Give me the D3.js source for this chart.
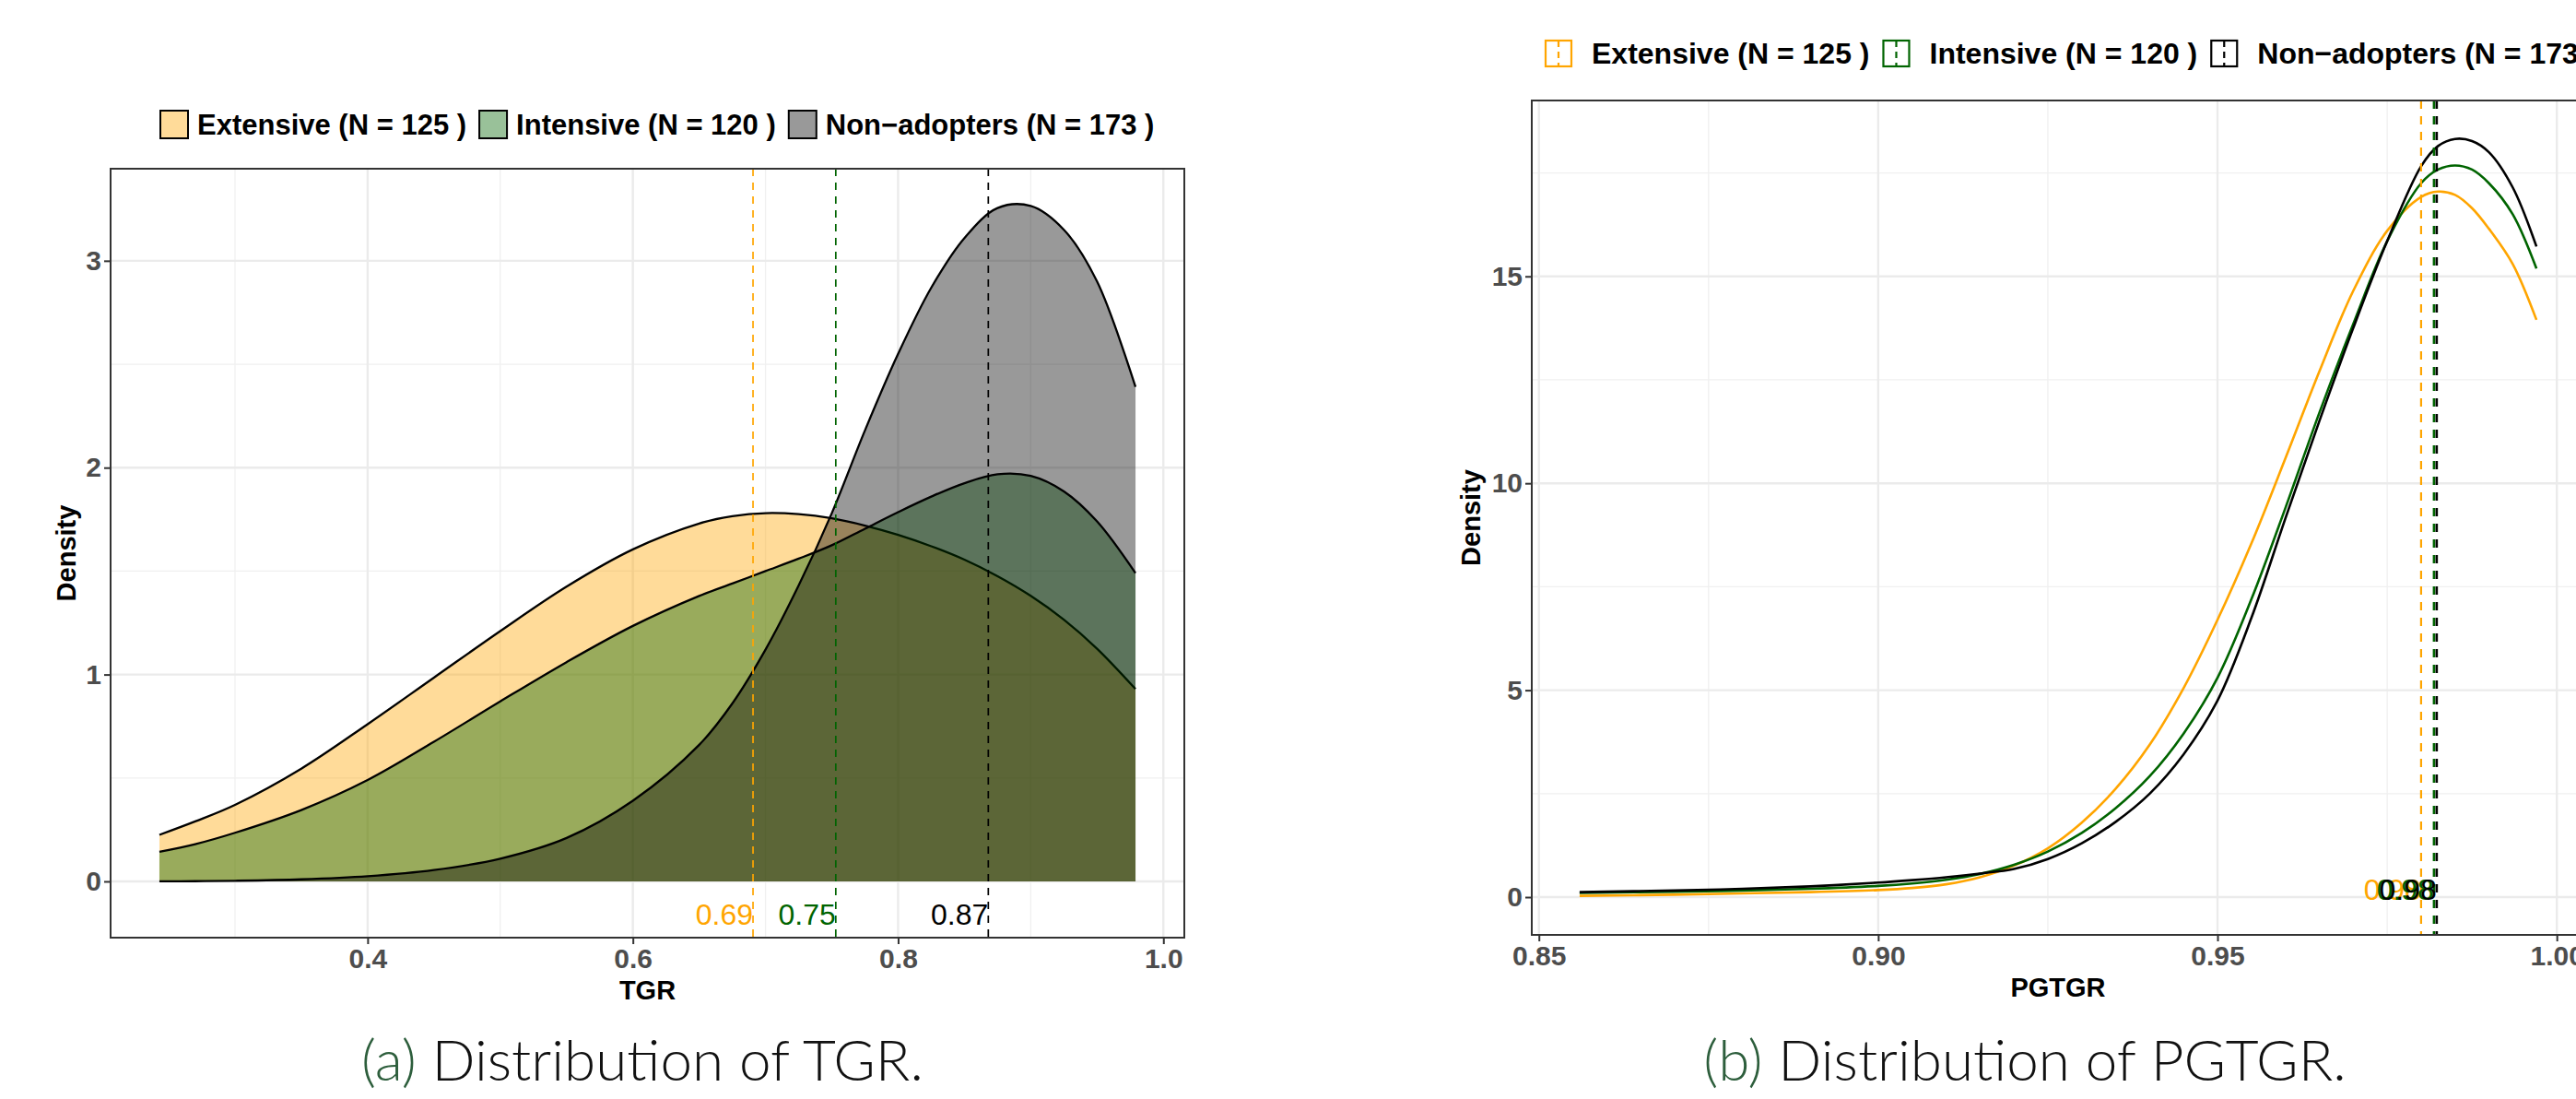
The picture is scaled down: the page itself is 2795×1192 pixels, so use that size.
<!DOCTYPE html>
<html>
<head>
<meta charset="utf-8">
<script src="https://cdn.jsdelivr.net/npm/d3@7"></script>
<style>
body { margin: 0; background: #fff; }
svg { display: block; font-family: "Liberation Sans", Arial, sans-serif; }
</style>
</head>
<body>
<svg id="chart" width="2795" height="1192"></svg>
<script>
const groups = ["Extensive (N = 125 )", "Intensive (N = 120 )", "Non\u2212adopters (N = 173 )"]
const groupColors = ["orange", "darkgreen", "black"]

// TGR densities (left)
const tgrGrid = [0.243, 0.27, 0.3, 0.35, 0.4, 0.45, 0.5, 0.55, 0.6, 0.65, 0.675, 0.7, 0.725, 0.75, 0.775, 0.8, 0.825, 0.85, 0.875, 0.9, 0.925, 0.95, 0.979]
const tgrExtensive = [0.225, 0.29, 0.37, 0.545, 0.76, 0.985, 1.21, 1.425, 1.605, 1.73, 1.765, 1.78, 1.775, 1.755, 1.72, 1.675, 1.62, 1.555, 1.475, 1.38, 1.265, 1.125, 0.93]
const tgrIntensive = [0.143, 0.18, 0.235, 0.345, 0.49, 0.675, 0.87, 1.06, 1.235, 1.38, 1.44, 1.50, 1.56, 1.625, 1.705, 1.785, 1.86, 1.925, 1.968, 1.96, 1.885, 1.74, 1.49]
const tgrNonAdopters = [0.0, 0.001, 0.003, 0.01, 0.025, 0.055, 0.11, 0.21, 0.39, 0.66, 0.86, 1.12, 1.43, 1.78, 2.18, 2.55, 2.87, 3.11, 3.255, 3.265, 3.15, 2.9, 2.39]
const tgrMeans = [0.6906, 0.753, 0.868]
const tgrTicks = [0.4, 0.6, 0.8, 1.0]
const tgrDensityTicks = [0, 1, 2, 3]

// PGTGR densities (right)
const pgtgrGrid = [0.856, 0.87, 0.88, 0.89, 0.9, 0.905, 0.91, 0.915, 0.92, 0.925, 0.93, 0.935, 0.94, 0.945, 0.95, 0.955, 0.96, 0.965, 0.97, 0.975, 0.98, 0.9825, 0.985, 0.9875, 0.99, 0.9935, 0.997]
const pgtgrExtensive = [0.03, 0.06, 0.09, 0.12, 0.17, 0.22, 0.31, 0.48, 0.76, 1.18, 1.8, 2.62, 3.68, 5.05, 6.7, 8.55, 10.6, 12.7, 14.65, 16.1, 16.92, 17.05, 16.97, 16.65, 16.15, 15.3, 13.95]
const pgtgrIntensive = [0.10, 0.13, 0.16, 0.20, 0.27, 0.33, 0.42, 0.56, 0.78, 1.1, 1.55, 2.15, 2.92, 3.95, 5.3, 7.2, 9.4, 11.7, 13.85, 15.85, 17.25, 17.58, 17.68, 17.58, 17.25, 16.5, 15.19]
const pgtgrNonAdopters = [0.12, 0.16, 0.20, 0.26, 0.35, 0.41, 0.48, 0.57, 0.68, 0.92, 1.3, 1.82, 2.5, 3.45, 4.75, 6.75, 9.15, 11.5, 13.75, 15.85, 17.66, 18.15, 18.32, 18.27, 18.0, 17.15, 15.72]
const pgtgrMeans = [0.980, 0.9819, 0.9823]
const pgtgrTicks = [0.85, 0.90, 0.95, 1.00]
const pgtgrDensityTicks = [0, 5, 10, 15]

const svg = d3.select("#chart")
svg.append("rect").attr("width", 2795).attr("height", 1192).attr("fill", "#fff")

function expand(ext) {
    const pad = (ext[1] - ext[0]) * 0.05
    return [ext[0] - pad, ext[1] + pad]
}

function drawPanel(p) {
    const x = d3.scaleLinear().domain(expand(d3.extent(p.grid))).range([p.left, p.right])
    const y = d3.scaleLinear().domain(p.yDomain).range([p.bottom, p.top])
    const g = svg.append("g")

    const clipId = "clip" + p.id
    g.append("clipPath").attr("id", clipId)
        .append("rect").attr("x", p.left).attr("y", p.top)
        .attr("width", p.right - p.left).attr("height", p.bottom - p.top)

    const inner = g.append("g").attr("clip-path", `url(#${clipId})`)

    // grid, minor first
    const xMinor = p.xTicks.slice(0, -1).map((d, i) => (d + p.xTicks[i + 1]) / 2)
    xMinor.unshift(p.xTicks[0] - (p.xTicks[1] - p.xTicks[0]) / 2)
    const yMinor = p.yTicks.map(d => d + (p.yTicks[1] - p.yTicks[0]) / 2)
    inner.selectAll(".xminor").data(xMinor).enter().append("line")
        .attr("x1", d => x(d)).attr("x2", d => x(d))
        .attr("y1", p.top).attr("y2", p.bottom)
        .attr("stroke", "#f0f0f0").attr("stroke-width", 1.3)
    inner.selectAll(".yminor").data(yMinor).enter().append("line")
        .attr("x1", p.left).attr("x2", p.right)
        .attr("y1", d => y(d)).attr("y2", d => y(d))
        .attr("stroke", "#f0f0f0").attr("stroke-width", 1.3)
    inner.selectAll(".xmajor").data(p.xTicks).enter().append("line")
        .attr("x1", d => x(d)).attr("x2", d => x(d))
        .attr("y1", p.top).attr("y2", p.bottom)
        .attr("stroke", "#ebebeb").attr("stroke-width", 2.4)
    inner.selectAll(".ymajor").data(p.yTicks).enter().append("line")
        .attr("x1", p.left).attr("x2", p.right)
        .attr("y1", d => y(d)).attr("y2", d => y(d))
        .attr("stroke", "#ebebeb").attr("stroke-width", 2.4)

    const area = d3.area().x(d => x(d[0])).y0(y(0)).y1(d => y(d[1])).curve(d3.curveCatmullRom.alpha(0.5))
    const line = d3.line().x(d => x(d[0])).y(d => y(d[1])).curve(d3.curveCatmullRom.alpha(0.5))

    p.series.forEach((vals, i) => {
        const pts = p.grid.map((v, j) => [v, vals[j]])
        if (p.filled) {
            inner.append("path").attr("d", area(pts))
                .attr("fill", groupColors[i]).attr("fill-opacity", 0.4)
            inner.append("path").attr("d", line(pts))
                .attr("fill", "none").attr("stroke", "black").attr("stroke-width", 2.3)
        } else {
            inner.append("path").attr("d", line(pts))
                .attr("fill", "none").attr("stroke", groupColors[i]).attr("stroke-width", 2.6)
        }
    })

    // mean lines + labels
    p.means.forEach((m, i) => {
        inner.append("line")
            .attr("x1", x(m)).attr("x2", x(m)).attr("y1", p.top).attr("y2", p.bottom)
            .attr("stroke", groupColors[i]).attr("stroke-width", p.meanWidth[i])
            .attr("stroke-dasharray", p.dash)
    })
    p.means.forEach((m, i) => {
        inner.append("text")
            .attr("x", x(m)).attr("y", y(p.labelY))
            .attr("text-anchor", "end").attr("dominant-baseline", "central")
            .attr("font-size", 32).attr("fill", groupColors[i])
            .text(d3.format(".2f")(m))
    })

    g.append("rect").attr("x", p.left).attr("y", p.top)
        .attr("width", p.right - p.left).attr("height", p.bottom - p.top)
        .attr("fill", "none").attr("stroke", "#333").attr("stroke-width", 2)

    const xAxis = g.append("g").attr("transform", `translate(0,${p.bottom})`)
        .call(d3.axisBottom(x).tickValues(p.xTicks).tickFormat(d3.format(p.xFormat)).tickSize(7).tickPadding(5))
    const yAxis = g.append("g").attr("transform", `translate(${p.left},0)`)
        .call(d3.axisLeft(y).tickValues(p.yTicks).tickFormat(d3.format("d")).tickSize(7).tickPadding(3))
    ;[xAxis, yAxis].forEach(a => {
        a.select(".domain").remove()
        a.selectAll(".tick line").attr("stroke", "#333").attr("stroke-width", 2)
        a.selectAll(".tick text").attr("font-size", 30).attr("font-weight", "bold")
            .attr("fill", "#4d4d4d").attr("font-family", "Liberation Sans, Arial, sans-serif")
    })

    g.append("text").attr("x", (p.left + p.right) / 2).attr("y", p.bottom + 57)
        .attr("text-anchor", "middle").attr("dominant-baseline", "central")
        .attr("font-size", 29).attr("font-weight", "bold").text(p.xTitle)
    g.append("text")
        .attr("transform", `translate(${p.yTitleX},${(p.top + p.bottom) / 2}) rotate(-90)`)
        .attr("text-anchor", "middle").attr("dominant-baseline", "central")
        .attr("font-size", 29).attr("font-weight", "bold").text("Density")

    // legend
    let lx = p.legendX
    groups.forEach((name, i) => {
        const key = g.append("g")
        if (p.filled) {
            key.append("rect").attr("x", lx).attr("y", p.legendY - 15).attr("width", 30).attr("height", 30)
                .attr("fill", groupColors[i]).attr("fill-opacity", 0.4)
                .attr("stroke", "black").attr("stroke-width", 2)
        } else {
            key.append("rect").attr("x", lx + 1).attr("y", p.legendY - 14).attr("width", 28).attr("height", 28)
                .attr("fill", "none").attr("stroke", groupColors[i]).attr("stroke-width", 2.2)
            key.append("line").attr("x1", lx + 15).attr("x2", lx + 15)
                .attr("y1", p.legendY - 14).attr("y2", p.legendY + 14)
                .attr("stroke", groupColors[i]).attr("stroke-width", 2.2).attr("stroke-dasharray", "7,5")
        }
        const t = g.append("text").attr("x", lx + p.legendGap).attr("y", p.legendY)
            .attr("dominant-baseline", "central").attr("font-size", p.legendSize)
            .attr("font-weight", "bold").text(name)
        lx += p.legendGap + t.node().getComputedTextLength() + 14
    })

    const cap = g.append("text").attr("x", p.captionX).attr("y", 1172)
        .attr("text-anchor", "middle").attr("font-size", 62)
        .attr("font-family", "Lato, 'Open Sans', sans-serif").attr("font-weight", 300)
    cap.append("tspan").attr("fill", "#2d5e3c").text(p.captionTag)
    cap.append("tspan").attr("fill", "#111").text(" " + p.caption)
}

drawPanel({
    id: "a", grid: tgrGrid, series: [tgrExtensive, tgrIntensive, tgrNonAdopters], means: tgrMeans,
    xTicks: tgrTicks, yTicks: tgrDensityTicks, xFormat: ".1f", yDomain: [-0.272, 3.445],
    left: 120, right: 1285, top: 183, bottom: 1017, filled: true,
    labelY: -0.16, dash: "8,7", meanWidth: [1.7, 1.7, 1.7],
    xTitle: "TGR", yTitleX: 72, legendX: 174, legendY: 135, legendSize: 31, legendGap: 40,
    captionX: 697, captionTag: "(a)", caption: "Distribution of TGR."
})

drawPanel({
    id: "b", grid: pgtgrGrid, series: [pgtgrExtensive, pgtgrIntensive, pgtgrNonAdopters], means: pgtgrMeans,
    xTicks: pgtgrTicks, yTicks: pgtgrDensityTicks, xFormat: ".2f", yDomain: [-0.913, 19.25],
    left: 1662, right: 2804, top: 109, bottom: 1014, filled: false,
    labelY: 0.18, dash: "9,8", meanWidth: [2.2, 2.6, 2.6],
    xTitle: "PGTGR", yTitleX: 1596, legendX: 1676, legendY: 58, legendSize: 32, legendGap: 51,
    captionX: 2197, captionTag: "(b)", caption: "Distribution of PGTGR."
})
</script>
</body>
</html>
